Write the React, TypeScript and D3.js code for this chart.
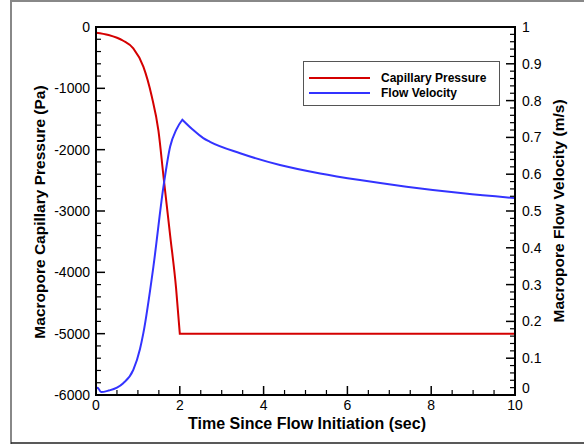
import React from "react";
import * as d3 from "d3";

const pressureT = [0, 0.3, 0.65, 0.89, 1.13, 1.33, 1.49, 1.61, 1.77, 1.91, 2.0, 4, 6, 8, 10];
const pressureP = [-93, -130, -224, -348, -647, -1130, -1690, -2430, -3400, -4250, -5000, -5000, -5000, -5000, -5000];

const velocityT = [0, 0.04, 0.12, 0.3, 0.5, 0.65, 0.89, 1.05, 1.13, 1.37, 1.61, 1.77, 1.92, 2.06, 2.3, 2.56, 2.72, 3.44, 4.39, 5.35, 6.3, 7.41, 8.76, 10];
const velocityV = [0.016, 0.02, 0.008, 0.012, 0.02, 0.032, 0.068, 0.125, 0.168, 0.349, 0.566, 0.675, 0.722, 0.748, 0.722, 0.698, 0.688, 0.657, 0.625, 0.602, 0.584, 0.566, 0.548, 0.535];

const xMajor = [0, 2, 4, 6, 8, 10];
const yLeftMajor = [0, -1000, -2000, -3000, -4000, -5000, -6000];
const yRightMajor = [0, 0.1, 0.2, 0.3, 0.4, 0.5, 0.6, 0.7, 0.8, 0.9, 1];

const seriesNames = ["Capillary Pressure", "Flow Velocity"];
const seriesColors = ["#d40000", "#3333ff"];

const FONT = "'Liberation Sans', Arial, Helvetica, sans-serif";

export default function App() {
  const L = 96, R = 515, T = 27, B = 395;
  const x = d3.scaleLinear().domain([0, 10]).range([L, R]);
  const yL = d3.scaleLinear().domain([-6000, 0]).range([B, T]);
  const yR = d3.scaleLinear().domain([0, 1]).range([B, T]);

  const xMinor = d3.range(0, 10.001, 0.5).filter((v) => !xMajor.some((m) => Math.abs(m - v) < 1e-6));
  const yLMinor = d3.range(-6000, 1, 200).filter((v) => v % 1000 !== 0);
  const yRMinor = d3.range(0, 51, 1).map((i) => i / 50).filter((v, i) => i % 5 !== 0);

  const pData = pressureT.map((t, i) => [t, pressureP[i]] as [number, number]);
  const vData = velocityT.map((t, i) => [t, velocityV[i]] as [number, number]);

  // split at the kinks (pressure reaching its floor, velocity peak)
  const pKink = pData.findIndex((d) => d[1] <= -5000);
  const vKink = vData.reduce((bi, d, i) => (d[1] > vData[bi][1] ? i : bi), 0);

  const pCurve = d3.line<[number, number]>().x((d) => x(d[0])).y((d) => yL(d[1])).curve(d3.curveMonotoneX);
  const pFlat = d3.line<[number, number]>().x((d) => x(d[0])).y((d) => yL(d[1]));
  const vCurve = d3.line<[number, number]>().x((d) => x(d[0])).y((d) => yR(d[1])).curve(d3.curveMonotoneX);

  const pPath = (pCurve(pData.slice(0, pKink + 1)) || "") + (pFlat(pData.slice(pKink)) || "").replace(/^M/, "L");
  const vPath = (vCurve(vData.slice(0, vKink + 1)) || "") + (vCurve(vData.slice(vKink)) || "").replace(/^M/, "L");

  return (
    <svg width={584} height={444} style={{ position: "absolute", left: 0, top: 0, background: "#fff" }} fontFamily={FONT}>
      <rect x={0} y={0} width={584} height={444} fill="#fff" />
      {/* outer frame */}
      <path d="M11,444 L11,1 L584,1" fill="none" stroke="#888" strokeWidth={2} />
      <line x1={11} x2={584} y1={443} y2={443} stroke="#222" strokeWidth={1.5} />

      {/* data */}
      <path d={pPath} fill="none" stroke={seriesColors[0]} strokeWidth={2} strokeLinejoin="miter" />
      <path d={vPath} fill="none" stroke={seriesColors[1]} strokeWidth={2} strokeLinejoin="miter" />

      {/* plot frame */}
      <rect x={L} y={T} width={R - L} height={B - T} fill="none" stroke="#000" strokeWidth={2} />

      {/* x ticks */}
      {xMajor.map((v) => (
        <g key={"xm" + v}>
          <line x1={x(v)} x2={x(v)} y1={B} y2={B - 9} stroke="#000" strokeWidth={1.5} />
          <text x={x(v)} y={410} fontSize={14} textAnchor="middle">{v}</text>
        </g>
      ))}
      {xMinor.map((v) => (
        <line key={"xn" + v} x1={x(v)} x2={x(v)} y1={B} y2={B - 5} stroke="#000" strokeWidth={1.2} />
      ))}

      {/* left ticks */}
      {yLeftMajor.map((v) => (
        <g key={"ylm" + v}>
          <line x1={L} x2={L + 9} y1={yL(v)} y2={yL(v)} stroke="#000" strokeWidth={1.5} />
          <text x={90} y={yL(v) + 5} fontSize={14} textAnchor="end">{v}</text>
        </g>
      ))}
      {yLMinor.map((v) => (
        <line key={"yln" + v} x1={L} x2={L + 5} y1={yL(v)} y2={yL(v)} stroke="#000" strokeWidth={1.2} />
      ))}

      {/* right ticks */}
      {yRightMajor.map((v) => (
        <g key={"yrm" + v}>
          <line x1={R} x2={R - 9} y1={yR(v)} y2={yR(v)} stroke="#000" strokeWidth={1.5} />
          <text x={522} y={v === 0 ? yR(v) - 2 : yR(v) + 5} fontSize={14} textAnchor="start">{v === 0 || v === 1 ? String(v) : d3.format(".1f")(v)}</text>
        </g>
      ))}
      {yRMinor.map((v) => (
        <line key={"yrn" + v} x1={R} x2={R - 5} y1={yR(v)} y2={yR(v)} stroke="#000" strokeWidth={1.2} />
      ))}

      {/* axis titles */}
      <text x={307} y={429} fontSize={16} fontWeight="bold" textAnchor="middle">Time Since Flow Initiation (sec)</text>
      <text transform="translate(45,212) rotate(-90)" fontSize={15.5} fontWeight="bold" textAnchor="middle">Macropore Capillary Pressure (Pa)</text>
      <text transform="translate(564,211) rotate(-90)" fontSize={15.5} fontWeight="bold" textAnchor="middle">Macropore Flow Velocity (m/s)</text>

      {/* legend */}
      <rect x={303.5} y={61.5} width={196} height={44} fill="#fff" stroke="#555" strokeWidth={1} />
      {seriesNames.map((n, i) => (
        <g key={n}>
          <line x1={309} x2={370} y1={78 + i * 15} y2={78 + i * 15} stroke={seriesColors[i]} strokeWidth={2} />
          <text x={381} y={82 + i * 15} fontSize={12} fontWeight="bold">{n}</text>
        </g>
      ))}
    </svg>
  );
}
